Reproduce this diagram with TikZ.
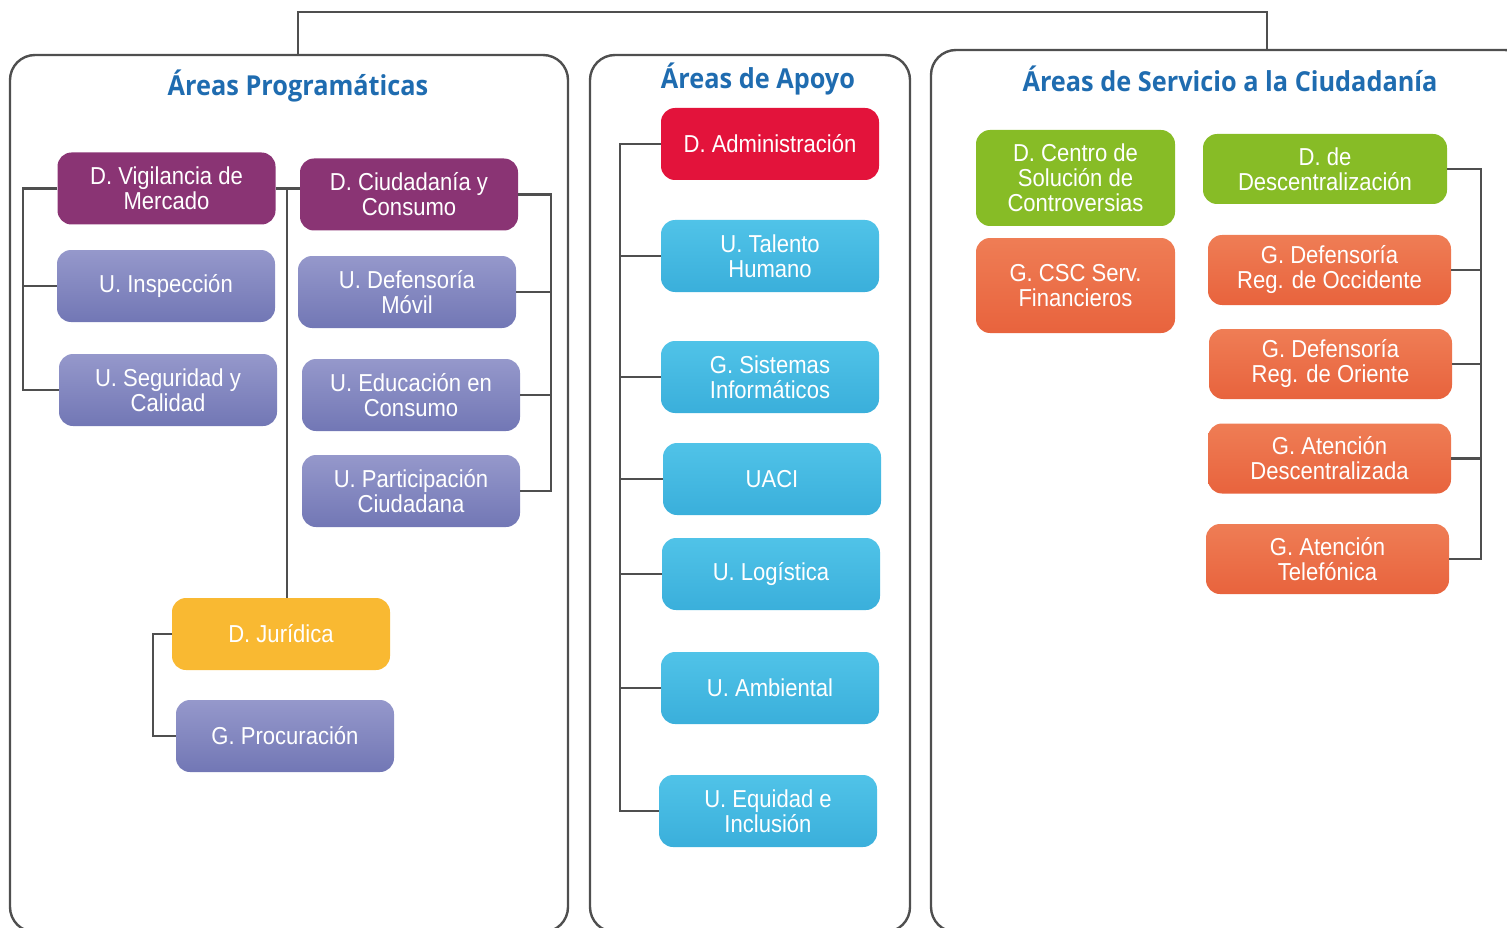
\documentclass[tikz,border=0pt]{standalone}
\usepackage{fontspec}
\usepackage{tikz}
\usetikzlibrary{positioning}
\newfontfamily\boxfont[FakeStretch=0.9]{Liberation Sans}
\newfontfamily\titlefont[FakeStretch=0.92]{Open Sans}
\definecolor{areablue}{HTML}{1F6CB0}
\definecolor{linegrey}{HTML}{4F4F4F}
\definecolor{dirpurple}{HTML}{8A3474}
\definecolor{unittop}{HTML}{9598CB}
\definecolor{unitbot}{HTML}{7277B5}
\definecolor{admred}{HTML}{E3133B}
\definecolor{cyantop}{HTML}{50C3E8}
\definecolor{cyanbot}{HTML}{3AAFDB}
\definecolor{jurgold}{HTML}{F9B932}
\definecolor{srvgreen}{HTML}{87BC26}
\definecolor{orgtop}{HTML}{EF7D55}
\definecolor{orgbot}{HTML}{E8633D}

\begin{document}
\begin{tikzpicture}[x=1pt,y=-1pt,
  panel/.style={draw=linegrey,line width=2.4pt,rounded corners=25pt,inner sep=0pt},
  areatitle/.style={text=areablue,font=\titlefont\bfseries\fontsize{27.5}{30}\selectfont},
  box/.style={rounded corners=14pt,align=center,text=white,inner sep=2pt,
              minimum width=218pt,minimum height=72pt,
              font=\boxfont\fontsize{24.5}{25}\selectfont},
  dirbox/.style={box,fill=dirpurple},
  unitbox/.style={box,top color=unittop,bottom color=unitbot},
  admbox/.style={box,fill=admred},
  supbox/.style={box,top color=cyantop,bottom color=cyanbot},
  jurbox/.style={box,fill=jurgold},
  srvbox/.style={box,fill=srvgreen},
  regbox/.style={box,top color=orgtop,bottom color=orgbot},
  link/.style={draw=linegrey,line width=2.4pt}]
\clip (0,0) rectangle (1507,928);

% panels and titles
\node[panel,minimum width=558pt,minimum height=877pt] (pprog) at (289,493.5) {};
\node[panel,minimum width=320pt,minimum height=877pt] (papoyo) at (750,493.5) {};
\node[panel,minimum width=599pt,minimum height=882pt] (pserv) at (1230.5,491) {};
\node[areatitle] (tprog) at (298,86) {Áreas Programáticas};
\node[areatitle] (tapoyo) at (758,79) {Áreas de Apoyo};
\node[areatitle] (tserv) at (1230,79) {Áreas de Servicio a la Ciudadanía};

% programaticas
\node[dirbox] (vig) at (166.5,188.5) {D. Vigilancia de\\Mercado};
\node[dirbox] (ciu) at (409,194.5) {D. Ciudadanía y\\Consumo};
\node[unitbox] (insp) at (166,286) {U. Inspección};
\node[unitbox] (def) at (407,292) {U. Defensoría\\Móvil};
\node[unitbox] (seg) at (168,390) {U. Seguridad y\\Calidad};
\node[unitbox] (edu) at (411,395) {U. Educación en\\Consumo};
\node[unitbox] (part) at (411,491) {U. Participación\\Ciudadana};
\node[jurbox] (jur) at (281,634) {D. Jurídica};
\node[unitbox] (proc) at (285,736) {G. Procuración};

% apoyo
\node[admbox] (adm) at (770,144) {D. Administración};
\node[supbox] (tal) at (770,256) {U. Talento\\Humano};
\node[supbox] (sis) at (770,377) {G. Sistemas\\Informáticos};
\node[supbox] (uaci) at (772,479) {UACI};
\node[supbox] (log) at (771,574) {U. Logística};
\node[supbox] (amb) at (770,688) {U. Ambiental};
\node[supbox] (equ) at (768,811) {U. Equidad e\\Inclusión};

% servicio
\node[srvbox,minimum width=199pt,minimum height=96pt] (csc) at (1075.5,178) {D. Centro de\\Solución de\\Controversias};
\node[regbox,minimum width=199pt,minimum height=95pt] (fin) at (1075.5,285.5) {G. CSC Serv.\\Financieros};
\node[srvbox,minimum width=244pt,minimum height=70pt] (desc) at (1325,169) {D. de\\Descentralización};
\node[regbox,minimum width=243pt,minimum height=70pt] (occ) at (1329.5,270) {G. Defensoría\\Reg. de Occidente};
\node[regbox,minimum width=243pt,minimum height=70pt] (ori) at (1330.5,364) {G. Defensoría\\Reg. de Oriente};
\node[regbox,minimum width=243pt,minimum height=70pt] (ate) at (1329.5,458.5) {G. Atención\\Descentralizada};
\node[regbox,minimum width=243pt,minimum height=70pt] (tel) at (1327.5,559) {G. Atención\\Telefónica};

% spines
\coordinate (spL) at (23,0);
\coordinate (spM) at (287,0);
\coordinate (spR) at (551,0);
\coordinate (spJ) at (153,0);
\coordinate (spA) at (620,0);
\coordinate (spS) at (1481,0);
\coordinate (topL) at (298,12);
\coordinate (topR) at (1267,12);

\draw[link] (pprog.north -| topL) |- (topR) -- (pserv.north -| topR);
\draw[link] (vig.west) -| (spL |- seg.west) -- (seg.west);
\draw[link] (insp.west) -- (spL |- insp.west);
\draw[link] (vig.east) -- (vig.east -| ciu.west);
\draw[link] (spM |- vig.east) -- (spM |- jur.north);
\draw[link] (ciu.east) -| (spR |- part.east) -- (part.east);
\draw[link] (def.east) -- (spR |- def.east);
\draw[link] (edu.east) -- (spR |- edu.east);
\draw[link] (jur.west) -| (spJ |- proc.west) -- (proc.west);
\draw[link] (adm.west) -| (spA |- equ.west) -- (equ.west);
\foreach \n in {tal,sis,uaci,log,amb}
  \draw[link] (\n.west) -- (spA |- \n.west);
\draw[link] (desc.east) -| (spS |- tel.east) -- (tel.east);
\foreach \n in {occ,ori,ate}
  \draw[link] (\n.east) -- (spS |- \n.east);
\end{tikzpicture}
\end{document}
